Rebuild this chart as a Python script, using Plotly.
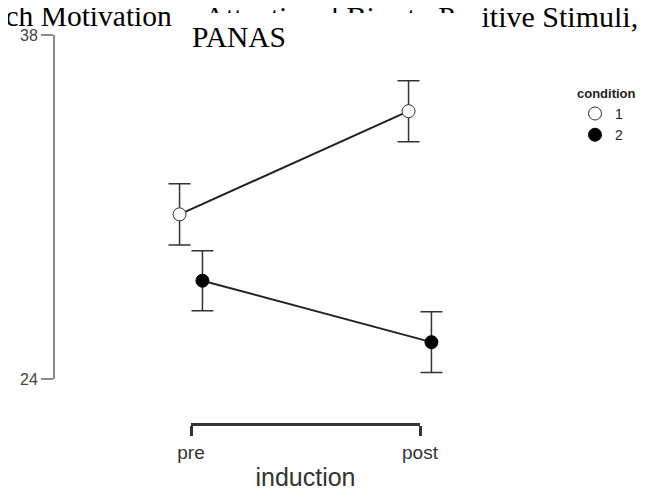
import plotly.graph_objects as go

# data
categories = ['pre', 'post']
conditions = ['1', '2']
means_1 = [30.7, 34.9]
means_2 = [28.0, 25.5]
err_1 = [1.25, 1.24]
err_2 = [1.22, 1.24]
y_ticks = [24, 38]

W, H = 660, 502
OFF = 8  # the page body adds an 8px margin, so everything is placed 8px up/left
y_line_px, y38_px, y24_px, x_line_px = 54, 35, 379, 424
pre_px, post_px = 191, 420   # where pre/post sit in the reference
dodge = 0.05

ml = y_line_px - OFF
mt = y38_px - OFF
mb = H - (x_line_px - OFF)
mr = 160
plot_w = W - ml - mr
plot_h = H - mt - mb

def px(x):
    return (x - OFF - ml) / plot_w

def py(y):
    return (H - mb - (y - OFF)) / plot_h

span = post_px - pre_px
x_range = [(y_line_px - pre_px) / span, (W - mr + OFF - pre_px) / span]
x2_domain = [px(pre_px), px(post_px)]

serif = 'Liberation Serif'
sans = 'Liberation Sans'

fig = go.Figure()

styles = {
    '1': dict(color='white', line=dict(color='#333333', width=1)),
    '2': dict(color='black', line=dict(color='black', width=1)),
}
series = {'1': (means_1, err_1, -dodge), '2': (means_2, err_2, dodge)}

# connecting lines first
for c in conditions:
    m, e, d = series[c]
    xs = [i + d for i in range(len(categories))]
    fig.add_trace(go.Scatter(x=xs, y=m, mode='lines', line=dict(color='#222222', width=2),
                             showlegend=False, hoverinfo='skip'))

for c in conditions:
    m, e, d = series[c]
    xs = [i + d for i in range(len(categories))]
    fig.add_trace(go.Scatter(x=xs, y=m, mode='markers', name=c,
                             marker=dict(size=13, symbol='circle', **styles[c]),
                             error_y=dict(type='data', array=e, color='#333333', thickness=1.5, width=11),
                             cliponaxis=False))

# empty trace so the bracket axis is drawn
fig.add_trace(go.Scatter(x=[], y=[], xaxis='x2', yaxis='y', showlegend=False))

fig.update_layout(
    width=W, height=H,
    margin=dict(l=ml, r=mr, t=mt, b=mb),
    paper_bgcolor='white', plot_bgcolor='rgba(0,0,0,0)',
    xaxis=dict(domain=[0, 1], range=x_range, visible=False, anchor='y'),
    xaxis2=dict(domain=x2_domain, range=[0, 1], anchor='free', position=0,
                tickvals=[0, 1], ticktext=categories, showline=True, linecolor='#333333', linewidth=3,
                ticks='outside', ticklen=10, tickwidth=3, tickcolor='#333333',
                showgrid=False, zeroline=False,
                tickfont=dict(family=sans, size=19, color='#333333'),
                title=dict(text='induction', font=dict(family=sans, size=25, color='#333333'), standoff=6)),
    yaxis=dict(domain=[py(y24_px), 1], range=[y_ticks[0], y_ticks[1]], anchor='free', position=0,
               tickvals=y_ticks, showline=True, linecolor='#8a8a8a', linewidth=2,
               ticks='outside', ticklen=12, tickwidth=2, tickcolor='#8a8a8a',
               showgrid=False, zeroline=False,
               tickfont=dict(family=sans, size=16, color='#444444')),
    legend=dict(x=px(575), y=py(81), xanchor='left', yanchor='top',
                title=dict(text='<b>condition</b>', font=dict(family=sans, size=13, color='#222222')),
                font=dict(family=sans, size=14, color='#222222'), itemwidth=30,
                bgcolor='rgba(0,0,0,0)', tracegroupgap=0),
    showlegend=True,
)

tfont = dict(family=serif, size=29.5, color='black')
fig.add_annotation(text='Approach Motivation', xref='paper', yref='paper', x=px(174), y=py(16),
                   xanchor='right', yanchor='middle', showarrow=False, font=tfont)
fig.add_annotation(text='Attentional Bias to Positive Stimuli,', xref='paper', yref='paper', x=px(640), y=py(16),
                   xanchor='right', yanchor='middle', showarrow=False, font=dict(tfont, size=30))
# white block that hides part of the first title line, as in the reference
fig.add_annotation(text=' ', xref='paper', yref='paper', x=px(180), y=py(13), xanchor='left', yanchor='top',
                   width=302, height=22, bgcolor='white', borderpad=0, borderwidth=0, showarrow=False)
fig.add_annotation(text='PANAS', xref='paper', yref='paper', x=px(190), y=py(37),
                   xanchor='left', yanchor='middle', showarrow=False, font=tfont)

fig.write_html('out.html')
